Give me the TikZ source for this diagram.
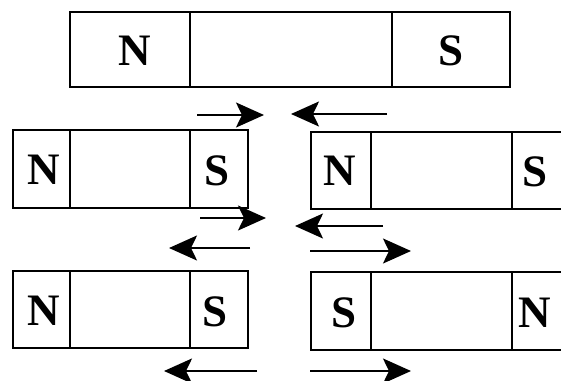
\documentclass[tikz,border=0pt]{standalone}
\usepackage{fontspec}
\setmainfont{Liberation Serif}
\usetikzlibrary{arrows.meta}

\tikzset{
  magnet/.style={draw=black, line width=1.8pt},
  pole/.style={font=\bfseries\fontsize{45}{45}\selectfont, inner sep=0pt, anchor=center},
  force/.style={line width=2pt, -{Stealth[length=28pt, width=25pt, inset=6pt]}},
}

\begin{document}
\begin{tikzpicture}[x=1pt, y=-1pt]
  \useasboundingbox (0,0) rectangle (561,380);
  \clip (0,0) rectangle (561,380);
  \fill[white] (0,0) rectangle (561,380);

  % long bar magnet at the top
  \draw[magnet] (70,12) rectangle (510,87);
  \draw[magnet] (190,12) -- (190,87) (392,12) -- (392,87);
  \node[pole] (topN) at (135,51) {N};
  \node[pole] (topS) at (451,51) {S};

  % middle row: N-S | N-S
  \draw[magnet] (13,130) rectangle (248,208);
  \draw[magnet] (70,130) -- (70,208) (190,130) -- (190,208);
  \node[pole] (mlN) at (44,170) {N};
  \node[pole] (mlS) at (217,171) {S};

  \draw[magnet] (311,132) rectangle (600,209);
  \draw[magnet] (371,132) -- (371,209) (512,132) -- (512,209);
  \node[pole] (mrN) at (340,171) {N};
  \node[pole] (mrS) at (535,172) {S};

  % bottom row: N-S | S-N
  \draw[magnet] (13,271) rectangle (248,348);
  \draw[magnet] (70,271) -- (70,348) (190,271) -- (190,348);
  \node[pole] (blN) at (44,311) {N};
  \node[pole] (blS) at (215,312) {S};

  \draw[magnet] (311,272) rectangle (600,350);
  \draw[magnet] (371,272) -- (371,350) (512,272) -- (512,350);
  \node[pole] (brS) at (344,313) {S};
  \node[pole] (brN) at (535,313) {N};

  % arrow end points
  \coordinate (a1s) at (197,115); \coordinate (a1e) at (264,115);
  \coordinate (a2s) at (387,114); \coordinate (a2e) at (291,114);
  \coordinate (a3s) at (200,218); \coordinate (a3e) at (266,218);
  \coordinate (a4s) at (383,226); \coordinate (a4e) at (295,226);
  \coordinate (a5s) at (250,248); \coordinate (a5e) at (169,248);
  \coordinate (a6s) at (310,251); \coordinate (a6e) at (411,251);
  \coordinate (a7s) at (257,371); \coordinate (a7e) at (164,371);
  \coordinate (a8s) at (310,371); \coordinate (a8e) at (411,371);

  \draw[force] (a1s) -- (a1e);
  \draw[force] (a2s) -- (a2e);
  \draw[force] (a3s) -- (a3e);
  \draw[force] (a4s) -- (a4e);
  \draw[force] (a5s) -- (a5e);
  \draw[force] (a6s) -- (a6e);
  \draw[force] (a7s) -- (a7e);
  \draw[force] (a8s) -- (a8e);
\end{tikzpicture}
\end{document}
